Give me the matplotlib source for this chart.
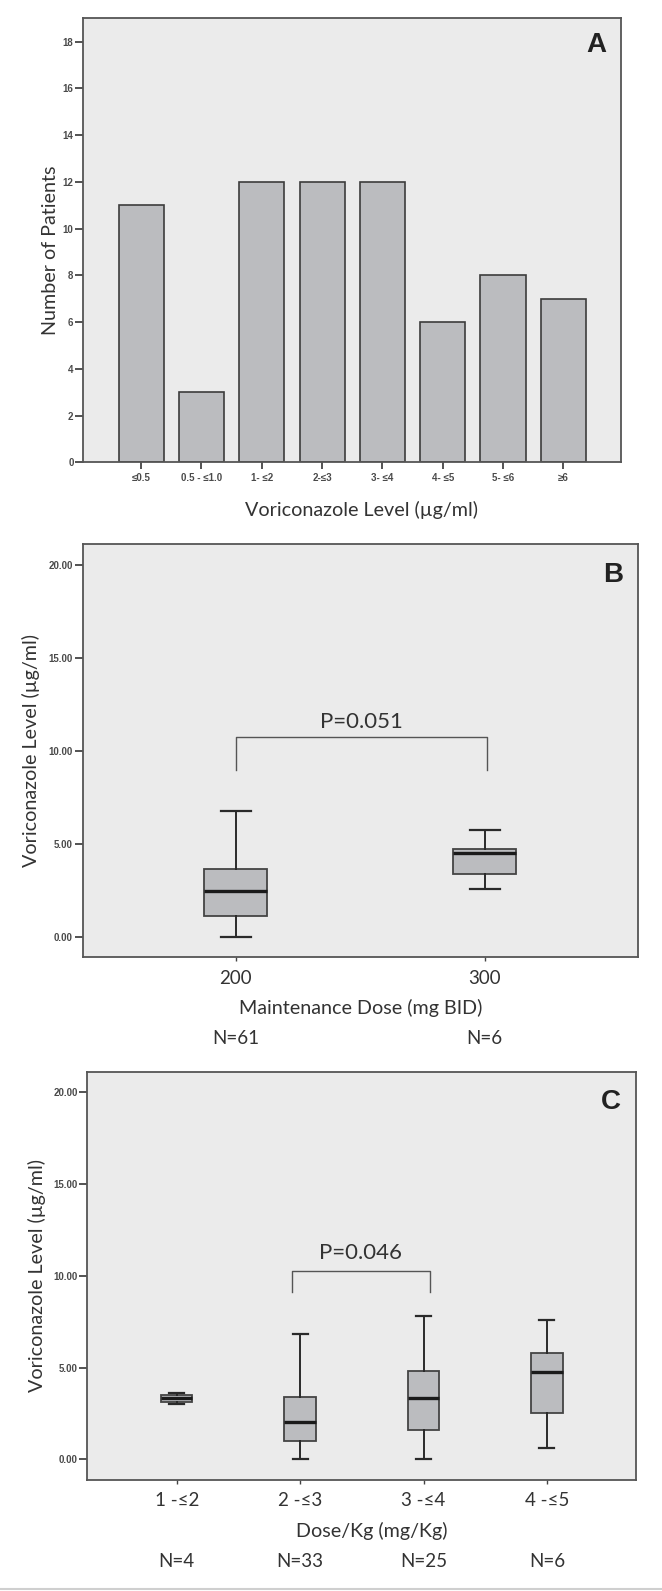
import matplotlib
matplotlib.use("Agg")
import matplotlib.pyplot as plt
from matplotlib.lines import Line2D
import numpy as np

plt.rcParams['font.family'] = ['Lato', 'DejaVu Sans']

# Panel A - histogram of levels
a_cats = ['≤0.5', '0.5 - ≤1.0', '1- ≤2', '2-≤3', '3- ≤4', '4- ≤5', '5- ≤6', '≥6']
a_counts = [11, 3, 12, 12, 12, 6, 8, 7]
a_yticks = [0, 2, 4, 6, 8, 10, 12, 14, 16, 18]

# Panel B - maintenance dose
b_cats = ['200', '300']
b_n = ['N=61', 'N=6']
b_whislo = [0.0, 2.6]
b_q1 = [1.12, 3.37]
b_med = [2.5, 4.5]
b_q3 = [3.67, 4.75]
b_whishi = [6.8, 5.78]
b_bracket_x = [0.0, 1.01]
b_bracket_y = [8.96, 10.78]
b_p = 'P=0.051'
b_p_y = 11.57

# Panel C - dose per kg
c_cats = ['1 -≤2', '2 -≤3', '3 -≤4', '4 -≤5']
c_n = ['N=4', 'N=33', 'N=25', 'N=6']
c_whislo = [3.03, 0.0, 0.0, 0.6]
c_q1 = [3.14, 1.01, 1.61, 2.51]
c_med = [3.32, 2.03, 3.32, 4.74]
c_q3 = [3.5, 3.41, 4.81, 5.81]
c_whishi = [3.63, 6.82, 7.81, 7.62]
c_bracket_x = [0.93, 2.05]
c_bracket_y = [9.1, 10.27]
c_p = 'P=0.046'
c_p_y = 11.26

box_yticks = [0, 5, 10, 15, 20]

BG = '#ebebeb'
FILL = '#bbbcbf'
EDGE = '#3c3c3c'
TXT = '#333333'
TICKFONT = dict(family='Liberation Sans', weight='bold', size=7, color='#4a4a4a')
LABSIZE = 14.2

fig = plt.figure(figsize=(6.62, 15.91), dpi=100)
axA = fig.add_axes([0.1258, 0.7094, 0.8118, 0.2791])
axB = fig.add_axes([0.1249, 0.3982, 0.8384, 0.2597])
axC = fig.add_axes([0.1319, 0.0700, 0.8284, 0.2564])


def style_axes(ax):
    ax.set_facecolor(BG)
    for s in ax.spines.values():
        s.set_color('#555555')
        s.set_linewidth(1.3)
    ax.tick_params(axis='y', length=6, width=1.3, color='#444444', pad=1)
    for lab in ax.get_yticklabels():
        lab.set(**TICKFONT)


# ---- A ----
xa = np.arange(len(a_cats))
axA.bar(xa, a_counts, width=0.75, color=FILL, edgecolor=EDGE, linewidth=1.2)
axA.set_xlim(-0.96, 7.95)
axA.set_ylim(0, 19)
axA.set_yticks(a_yticks)
axA.set_xticks(xa)
axA.set_xticklabels(a_cats)
style_axes(axA)
axA.tick_params(axis='x', length=5, width=1.3, color='#444444', pad=3)
for lab in axA.get_xticklabels():
    lab.set(**TICKFONT)
axA.set_ylabel('Number of Patients', fontsize=LABSIZE, color=TXT)
axA.yaxis.set_label_coords(-0.045, 0.478)
axA.set_xlabel('Voriconazole Level (µg/ml)', fontsize=LABSIZE, color=TXT, va='center')
axA.xaxis.set_label_coords(0.517, -0.107)
axA.text(0.955, 0.94, 'A', transform=axA.transAxes, ha='center', va='center',
         fontsize=20, fontweight='bold', family='Liberation Sans', color='#222222')


def draw_box(ax, cats, whislo, q1, med, q3, whishi):
    stats = []
    for i in range(len(cats)):
        stats.append(dict(whislo=whislo[i], q1=q1[i], med=med[i], q3=q3[i],
                          whishi=whishi[i], fliers=[], label=cats[i]))
    ax.bxp(stats, positions=np.arange(len(cats)), widths=0.255, patch_artist=True,
           showfliers=False, capwidths=0.12,
           boxprops=dict(facecolor=FILL, edgecolor='#444444', linewidth=1.3),
           whiskerprops=dict(color='#2a2a2a', linewidth=1.4),
           capprops=dict(color='#2a2a2a', linewidth=1.6),
           medianprops=dict(color='#1a1a1a', linewidth=2.4))


def bracket(ax, bx, by, ptxt, py):
    ax.plot([bx[0], bx[0], bx[1], bx[1]], [by[0], by[1], by[1], by[0]],
            color='#555555', linewidth=1.0)
    ax.text((bx[0] + bx[1]) / 2, py, ptxt, ha='center', va='center',
            fontsize=16, color=TXT)


def finish_box_axes(ax, cats, nlabels, xlabel, ylabel, letter, xl_y, n_y, yl_x, xl_x):
    ax.set_ylim(-1.1, 21.12)
    ax.set_yticks(box_yticks)
    ax.set_yticklabels(['%.2f' % v for v in box_yticks])
    style_axes(ax)
    ax.tick_params(axis='x', length=3, width=1.0, color='#444444', pad=6,
                   labelsize=13.5, labelcolor=TXT)
    ax.set_xticks(np.arange(len(cats)))
    ax.set_xticklabels(cats)
    ax.set_xlabel(xlabel, fontsize=LABSIZE, color=TXT, va='center')
    ax.xaxis.set_label_coords(xl_x, xl_y)
    ax.set_ylabel(ylabel, fontsize=LABSIZE, color=TXT)
    ax.yaxis.set_label_coords(yl_x, 0.5)
    trans = ax.get_xaxis_transform()
    for i, n in enumerate(nlabels):
        ax.text(i, n_y, n, transform=trans, ha='center', va='center',
                fontsize=13.5, color=TXT, clip_on=False)
    ax.text(0.955, 0.925, letter, transform=ax.transAxes, ha='center', va='center',
            fontsize=20, fontweight='bold', family='Liberation Sans', color='#222222')


# ---- B ----
draw_box(axB, b_cats, b_whislo, b_q1, b_med, b_q3, b_whishi)
axB.set_xlim(-0.615, 1.615)
bracket(axB, b_bracket_x, b_bracket_y, b_p, b_p_y)
finish_box_axes(axB, b_cats, b_n, 'Maintenance Dose (mg BID)', 'Voriconazole Level (µg/ml)',
                'B', -0.122, -0.196, -0.077, 0.5)

# ---- C ----
draw_box(axC, c_cats, c_whislo, c_q1, c_med, c_q3, c_whishi)
axC.set_xlim(-0.725, 3.72)
bracket(axC, c_bracket_x, c_bracket_y, c_p, c_p_y)
finish_box_axes(axC, c_cats, c_n, 'Dose/Kg (mg/Kg)', 'Voriconazole Level (µg/ml)',
                'C', -0.125, -0.2017, -0.075, 0.518)

# thin grey rule along the bottom edge of the image
fig.add_artist(Line2D([0, 1], [0.0015, 0.0015], transform=fig.transFigure,
                      color='#cfcfcf', linewidth=1.5))

fig.savefig('out.png', dpi=100, facecolor='white')
